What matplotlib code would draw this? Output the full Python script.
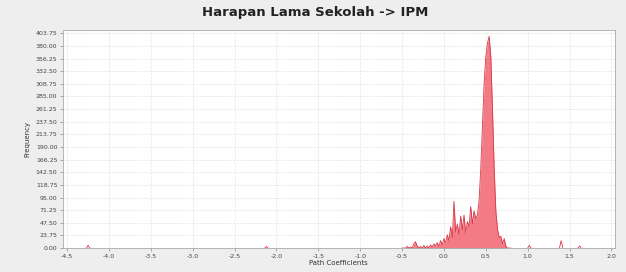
import matplotlib.pyplot as plt
import numpy as np

# bootstrap histogram, path coefficient -> frequency
coef = [-0.50, -0.48, -0.46, -0.44, -0.42, -0.40, -0.38, -0.36, -0.34, -0.32,
        -0.30, -0.28, -0.26, -0.24, -0.22, -0.20, -0.18, -0.16, -0.14, -0.12,
        -0.10, -0.08, -0.06, -0.04, -0.02, 0.00, 0.02, 0.04, 0.06, 0.08,
        0.10, 0.12, 0.14, 0.16, 0.18, 0.20, 0.22, 0.24, 0.26, 0.28,
        0.30, 0.32, 0.34, 0.36, 0.38, 0.40, 0.42, 0.44, 0.46, 0.48,
        0.50, 0.52, 0.54, 0.56, 0.58, 0.60, 0.62, 0.64, 0.66, 0.68,
        0.70, 0.72, 0.74, 0.76, 0.78, 0.80]
freq = [0, 0, 0, 3, 0, 2, 0, 8, 12, 4,
        0, 3, 0, 5, 0, 4, 0, 6, 2, 8,
        4, 10, 3, 14, 6, 18, 10, 25, 14, 40,
        20, 88, 30, 45, 25, 60, 35, 62, 28, 50,
        40, 78, 45, 70, 55, 62, 90, 150, 230, 310,
        360, 385, 398, 360, 260, 150, 70, 35, 20, 22,
        8, 18, 3, 0, 0, 0]

# isolated small spikes far from the bulk
spike_x = [-4.25, -2.12, 1.02, 1.40, 1.62]
spike_h = [5, 3, 5, 14, 4]

xticks = np.arange(-4.5, 2.01, 0.5)
yticks = np.arange(0, 404, 23.75)

fig = plt.figure(figsize=(6.26, 2.72), dpi=100, facecolor='#eeeeee')
ax = fig.add_axes([0.1006, 0.088, 0.8814, 0.802])
ax.set_facecolor('white')
ax.set_axisbelow(True)

ax.fill_between(coef, freq, color='#f26470', alpha=0.85, lw=0, zorder=2)
ax.plot(coef, freq, color='#d83848', lw=0.6, zorder=3)
for x, h in zip(spike_x, spike_h):
    ax.plot([x - 0.02, x, x + 0.02], [0, h, 0], color='#d83848', lw=0.6, zorder=3)

ax.set_xlim(-4.55, 2.04)
ax.set_ylim(0, 410)
ax.set_xticks(xticks)
ax.set_xticklabels(['%.1f' % v for v in xticks], fontsize=4.5, color='#444444')
ax.set_yticks(yticks)
ax.set_yticklabels(['%.2f' % v for v in yticks], fontsize=4.5, color='#444444')
ax.tick_params(length=2, width=0.5, colors='#888888', labelcolor='#444444', pad=2)
ax.grid(True, color='#e4e4e4', lw=0.5, ls='--', zorder=0)
for s in ax.spines.values():
    s.set_color('#aaaaaa')
    s.set_linewidth(0.6)

ax.set_xlabel('Path Coefficients', fontsize=5, color='#333333', labelpad=1)
ax.set_ylabel('Frequency', fontsize=5, color='#333333', labelpad=4)
fig.text(0.503, 0.955, 'Harapan Lama Sekolah -> IPM', ha='center', va='center',
         fontsize=9.5, fontweight='bold', color='#222222')

fig.savefig('out.png', dpi=100, facecolor=fig.get_facecolor())
